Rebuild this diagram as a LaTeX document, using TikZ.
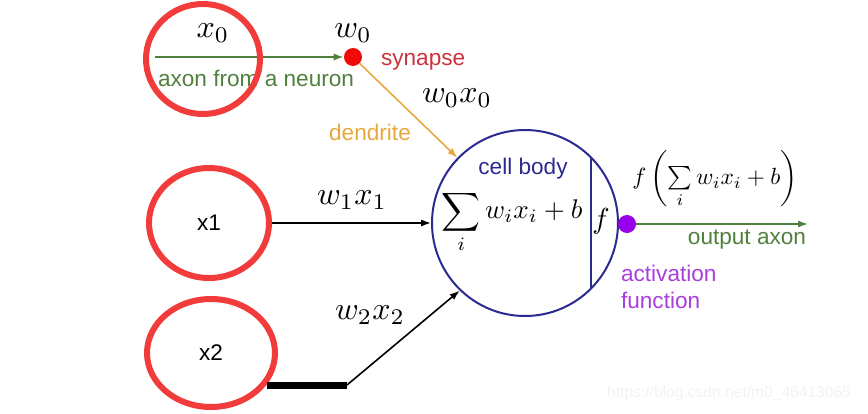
\documentclass[tikz,border=0pt]{standalone}
\usepackage{amsmath}
\usepackage[no-math]{fontspec}
\setmainfont{Liberation Sans}
\usetikzlibrary{shapes.geometric,arrows.meta}

\definecolor{markred}{RGB}{242,60,60}
\definecolor{axongreen}{RGB}{80,128,62}
\definecolor{synred}{RGB}{205,50,60}
\definecolor{dotred}{RGB}{240,10,10}
\definecolor{dendorange}{RGB}{232,168,62}
\definecolor{cellblue}{RGB}{42,42,145}
\definecolor{actpurple}{RGB}{150,0,235}
\definecolor{acttext}{RGB}{168,62,220}

\tikzset{
  marker/.style={draw=markred, line width=3pt, ellipse, inner sep=0pt},
  lbl/.style={font=\fontsize{11.3}{13.5}\selectfont},
  wlbl/.style={scale=1.6},
  dot/.style={circle, fill=#1, inner sep=0pt, minimum size=9pt},
}

\begin{document}
\begin{tikzpicture}[x=0.5pt, y=-0.5pt, >={Latex[length=5pt,width=3.6pt]}]
  \useasboundingbox (0,0) rectangle (868,413);
  % cell body
  \node[circle, draw=cellblue, line width=1pt, minimum size=93pt, inner sep=0pt] (cell) at (525,223) {};
  \draw[cellblue, line width=1pt] (cell.45.7) -- (cell.-45.7);
  \node[lbl, text=cellblue] (body) at (523,169) {cell body};
  \node[scale=1.35] (sum) at (512,222) {$\displaystyle\sum_i w_i x_i + b$};
  \node[scale=1.45] (fn) at (601,221) {$f$};
  % input x0
  \coordinate (ax0) at (155,57);
  \node[dot=dotred] (syn) at (353,57) {};
  \draw[->, axongreen, line width=0.8pt] (ax0) -- (syn.west);
  \draw[->, dendorange, line width=0.8pt] (syn) -- (cell.136);
  \node[wlbl] (lx0) at (213,33) {$x_0$};
  \node[wlbl] (lw0) at (353,33) {$w_0$};
  \node[lbl, text=synred, anchor=west] (lsyn) at (374,62) {synapse};
  \node[lbl, text=axongreen, anchor=west] (laxon) at (151,78) {axon from a neuron};
  \node[wlbl] (lw0x0) at (457,98) {$w_0x_0$};
  \node[lbl, text=dendorange] (ldend) at (370,132) {dendrite};
  \node[marker, minimum width=57pt, minimum height=55pt] (mark0) at (203,59) {};
  % input x1
  \node[marker, lbl, minimum width=60pt, minimum height=55pt] (x1) at (209,223) {x1};
  \draw[->, line width=0.8pt] (x1.east) -- (cell.west);
  \node[wlbl] (lw1x1) at (352,200) {$w_1x_1$};
  % input x2
  \node[marker, lbl, minimum width=64pt, minimum height=54pt] (x2) at (211,353) {x2};
  \coordinate (bend) at (347,385);
  \draw[line width=3.5pt] (bend -| x2.-29) -- (bend);
  \draw[->, line width=0.8pt] (bend) -- (cell.226);
  \node[wlbl] (lw2x2) at (370,315) {$w_2x_2$};
  % output
  \node[dot=actpurple] (act) at (627,224) {};
  \coordinate (out) at (808,224);
  \draw[->, axongreen, line width=0.8pt] (act) -- (out);
  \node[scale=1.17] (lout) at (715,179) {$f\left(\sum\limits_i w_i x_i + b\right)$};
  \node[lbl, text=axongreen] (loutax) at (747,240) {output axon};
  \node[lbl, text=acttext, anchor=west, align=left] (lact) at (614,287) {activation\\function};
  \node[font=\fontsize{7.8}{9}\selectfont, text=black!5, anchor=east] (wm) at (858,393) {https://blog.csdn.net/m0\_46413065};
\end{tikzpicture}
\end{document}
